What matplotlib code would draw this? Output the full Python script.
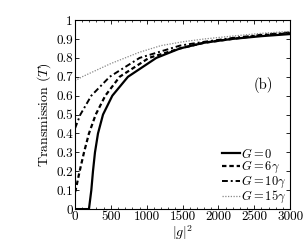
import matplotlib
matplotlib.use("Agg")
import matplotlib.pyplot as plt
from matplotlib.ticker import MultipleLocator

plt.rcParams['font.family'] = ['cmr10', 'DejaVu Serif']
plt.rcParams['mathtext.fontset'] = 'cm'
plt.rcParams['axes.formatter.use_mathtext'] = True

# Data
g0_x = [0, 195, 228, 251, 279, 321, 391, 521, 739, 1135, 1465, 1800, 2186, 2600, 3000]
g0_y = [0, 0, 0.1, 0.2, 0.3, 0.4, 0.5, 0.6, 0.7, 0.8, 0.85, 0.88, 0.90, 0.915, 0.926]

g6_x = [0, 9, 65, 126, 195, 289, 423, 623, 1032, 1465, 1800, 2186, 2600, 3000]
g6_y = [0.09, 0.1, 0.2, 0.3, 0.4, 0.5, 0.6, 0.7, 0.8, 0.85, 0.88, 0.90, 0.92, 0.93]

g10_x = [0, 9, 75, 228, 484, 902, 1465, 1800, 2186, 2600, 3000]
g10_y = [0.427, 0.435, 0.5, 0.6, 0.7, 0.8, 0.865, 0.885, 0.905, 0.922, 0.935]

g15_x = [0, 100, 300, 500, 700, 900, 1200, 1500, 1800, 2186, 2600, 3000]
g15_y = [0.679, 0.70, 0.735, 0.77, 0.80, 0.83, 0.865, 0.885, 0.90, 0.915, 0.93, 0.94]

labels = [r'$G=0$', r'$G=6\gamma$', r'$G=10\gamma$', r'$G=15\gamma$']

xticks = [0, 500, 1000, 1500, 2000, 2500, 3000]
xticklabels = ['0', '500', '1000', '1500', '2000', '2500', '3000']
yticks = [0, 0.1, 0.2, 0.3, 0.4, 0.5, 0.6, 0.7, 0.8, 0.9, 1.0]
yticklabels = ['0', '0.1', '0.2', '0.3', '0.4', '0.5', '0.6', '0.7', '0.8', '0.9', '1']

fig = plt.figure(figsize=(3.06, 2.42), dpi=100)
ax = fig.add_axes([0.245, 0.136, 0.703, 0.781])

ax.plot(g0_x, g0_y, color='black', lw=1.6, ls='-', label=labels[0])
ax.plot(g6_x, g6_y, color='black', lw=1.6, ls=(0, (2.0, 1.3)), label=labels[1])
ax.plot(g10_x, g10_y, color='black', lw=1.4, ls=(0, (3.0, 1.5, 1.0, 1.5)), label=labels[2])
ax.plot(g15_x, g15_y, color='#888888', lw=0.9, ls=(0, (1.0, 1.2)), label=labels[3])

ax.set_xlim(0, 3000)
ax.set_ylim(0, 1)
ax.set_xticks(xticks)
ax.set_xticklabels(xticklabels)
ax.set_yticks(yticks)
ax.set_yticklabels(yticklabels)
ax.xaxis.set_minor_locator(MultipleLocator(100))
ax.tick_params(which='both', direction='in', top=True, right=True, labelsize=9.5, pad=1.5)
ax.tick_params(which='major', length=3, width=0.6)
ax.tick_params(which='minor', length=1.5, width=0.5)
for s in ax.spines.values():
    s.set_linewidth(0.8)

ax.set_xlabel(r'$|g|^2$', fontsize=10, labelpad=0)
ax.set_ylabel(r'Transmission $(T)$', fontsize=10, labelpad=2)

ax.text(2620, 0.656, '(b)', fontsize=10.5, ha='center', va='center')

ax.legend(loc='lower right', frameon=False, fontsize=9, handlelength=1.4,
          handletextpad=0.1, labelspacing=-0.1, borderpad=0.1, borderaxespad=0.2)

fig.savefig('out.png', dpi=100)
